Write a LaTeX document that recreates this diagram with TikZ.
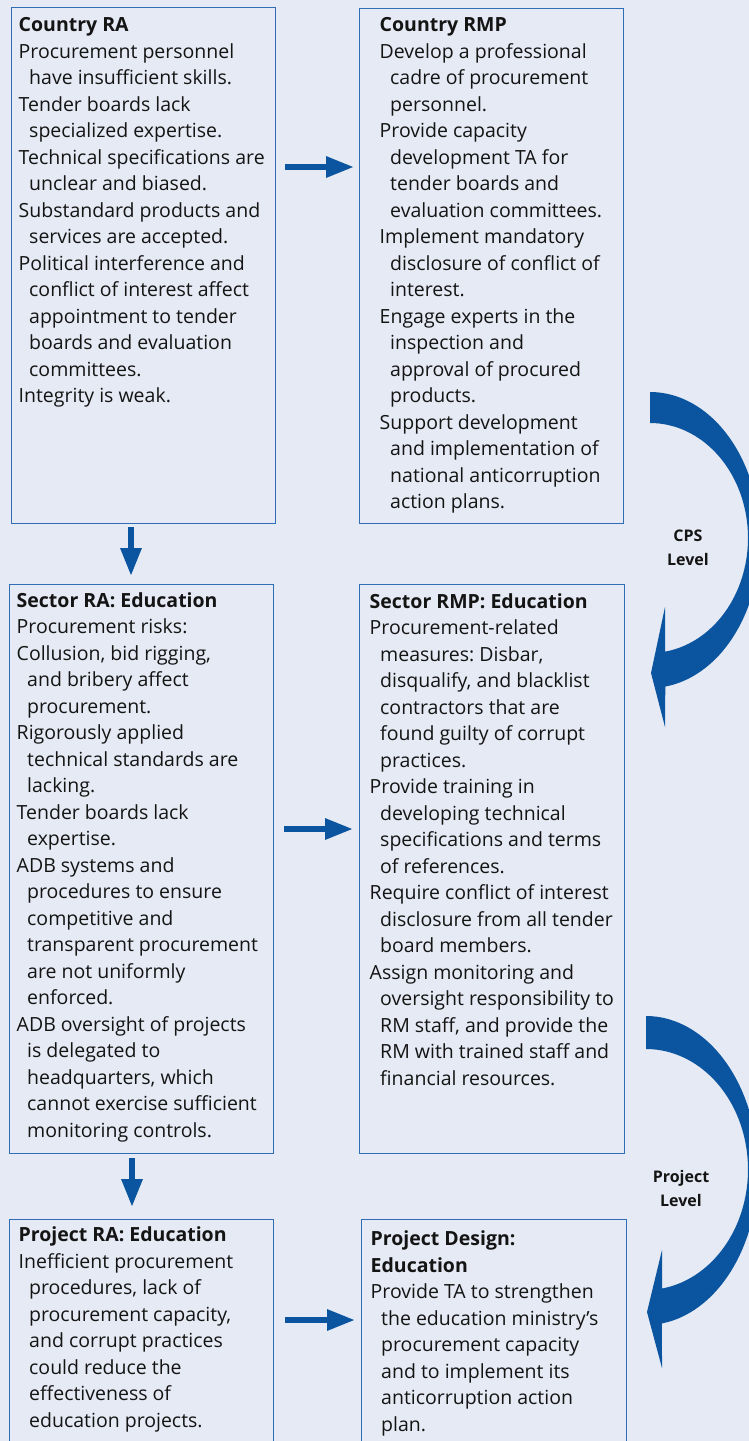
\documentclass[tikz,border=0pt]{standalone}
\usepackage{fontspec}
\setmainfont{Open Sans}
\usetikzlibrary{arrows.meta}
\definecolor{bg}{HTML}{E6EAF4}
\definecolor{bord}{HTML}{2F6DB5}
\definecolor{arrowblue}{HTML}{0B55A0}
\definecolor{txt}{HTML}{141414}
\newcommand\itm[1]{\par\hangindent=10.5pt\hangafter=1 #1\par}
\newcommand\ttl[1]{{\bfseries #1}\par}
\newcommand\bt[1]{\begin{minipage}[t]{300pt}\raggedright\frenchspacing\def\\{\newline}#1\end{minipage}}
\tikzset{
  box/.style={draw=bord, line width=1.3pt, inner sep=0pt, anchor=north west},
  boxtext/.style={anchor=base west, inner sep=0pt,
    font=\fontsize{19.5}{26.5}\selectfont, text=txt},
  arr/.style={draw=arrowblue, line width=6pt, -{Triangle[length=28pt,width=20pt]}},
  lbl/.style={align=center, inner sep=0pt, text=txt, font=\bfseries\fontsize{16}{24}\selectfont},
  bigarrow/.style={fill=arrowblue, draw=none}
}
\begin{document}
\begin{tikzpicture}[x=1pt,y=-1pt]
\useasboundingbox (0,0) rectangle (749,1441);
\fill[bg] (0,0) rectangle (749,1441);
\clip (0,0) rectangle (749,1441);

% boxes
\node[box, minimum width=264pt, minimum height=516pt] (cra) at (10.5,7) {};
\node[box, minimum width=264pt, minimum height=515pt] (crmp) at (358.5,8) {};
\node[box, minimum width=263.5pt, minimum height=569pt] (sra) at (9,584) {};
\node[box, minimum width=265pt, minimum height=569pt] (srmp) at (359,584) {};
\node[box, minimum width=264pt, minimum height=260pt] (pra) at (9,1219) {};
\node[box, minimum width=265pt, minimum height=260pt] (pd) at (361,1219) {};

% texts
\node[boxtext] (tcra) at (18.5,31.5) {\bt{%
\ttl{Country RA}%
\itm{Procurement personnel\\have insufficient skills.}%
\itm{Tender boards lack\\specialized expertise.}%
\itm{Technical specifications are\\unclear and biased.}%
\itm{Substandard products and\\services are accepted.}%
\itm{Political interference and\\conflict of interest affect\\appointment to tender\\boards and evaluation\\committees.}%
\itm{Integrity is weak.}}};

\node[boxtext] (tcrmp) at (379.5,31.7) {\bt{%
\ttl{Country RMP}%
\itm{Develop a professional\\cadre of procurement\\personnel.}%
\itm{Provide capacity\\development TA for\\tender boards and\\evaluation committees.}%
\itm{Implement mandatory\\disclosure of conflict of\\interest.}%
\itm{Engage experts in the\\inspection and\\approval of procured\\products.}%
\itm{Support development\\and implementation of\\national anticorruption\\action plans.}}};

\node[boxtext] (tsra) at (16.5,607.3) {\bt{%
\ttl{Sector RA: Education}%
\itm{Procurement risks:}%
\itm{Collusion, bid rigging,\\and bribery affect\\procurement.}%
\itm{Rigorously applied\\technical standards are\\lacking.}%
\itm{Tender boards lack\\expertise.}%
\itm{ADB systems and\\procedures to ensure\\competitive and\\transparent procurement\\are not uniformly\\enforced.}%
\itm{ADB oversight of projects\\is delegated to\\headquarters, which\\cannot exercise sufficient\\monitoring controls.}}};

\node[boxtext] (tsrmp) at (369.5,608.3) {\bt{%
\ttl{Sector RMP: Education}%
\itm{Procurement-related\\measures: Disbar,\\disqualify, and blacklist\\contractors that are\\found guilty of corrupt\\practices.}%
\itm{Provide training in\\developing technical\\specifications and terms\\of references.}%
\itm{Require conflict of interest\\disclosure from all tender\\board members.}%
\itm{Assign monitoring and\\oversight responsibility to\\RM staff, and provide the\\RM with trained staff and\\financial resources.}}};

\node[boxtext] (tpra) at (18.5,1241.7) {\bt{%
\ttl{Project RA: Education}%
\itm{Inefficient procurement\\procedures, lack of\\procurement capacity,\\and corrupt practices\\could reduce the\\effectiveness of\\education projects.}}};

\node[boxtext] (tpd) at (370.5,1245.7) {\bt{%
\ttl{Project Design:\\Education}%
\itm{Provide TA to strengthen\\the education ministry’s\\procurement capacity\\and to implement its\\anticorruption action\\plan.}}};

% straight arrows
\coordinate (h1) at (0,167);
\coordinate (h2) at (0,829);
\coordinate (h3) at (0,1320);
\coordinate (v1) at (131,0);
\coordinate (v2) at (132,0);
\draw[arr, shorten <=9pt, shorten >=4.5pt] (cra.east |- h1) -- (crmp.west |- h1);
\draw[arr, shorten <=10.5pt, shorten >=6pt] (sra.east |- h2) -- (srmp.west |- h2);
\draw[arr, shorten <=11pt, shorten >=6pt] (pra.east |- h3) -- (pd.west |- h3);
\draw[arr, shorten <=3pt, shorten >=8pt] (cra.south -| v1) -- (sra.north -| v1);
\draw[arr, shorten <=4pt, shorten >=12pt] (sra.south -| v2) -- (pra.north -| v2);

% curved arrows
\fill[bigarrow] plot[domain=90:-82, samples=60, smooth] ({650+110*cos(\x)},{540-148*sin(\x)})
  -- (665,727) -- (651,673) -- (665,607) -- (665,651.7)
  -- plot[domain=-81.2:90, samples=60, smooth] ({650+98*cos(\x)},{538-115*sin(\x)}) -- cycle;
\fill[bigarrow] plot[domain=90:-81.8, samples=60, smooth] ({646+112*cos(\x)},{1170.5-154.5*sin(\x)})
  -- (662,1368) -- (647,1312) -- (662,1250) -- (662,1288.5)
  -- plot[domain=-81:90, samples=60, smooth] ({646+102*cos(\x)},{1169.5-120.5*sin(\x)}) -- cycle;

\node[lbl] (cps) at (688,548) {CPS\\Level};
\node[lbl] (prl) at (681,1188) {Project\\Level};
\end{tikzpicture}
\end{document}
